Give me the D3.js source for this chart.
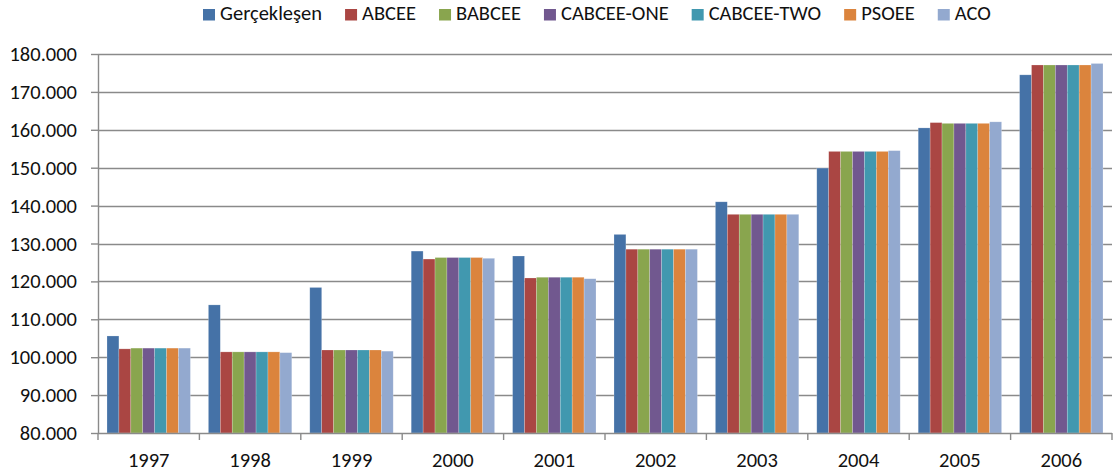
<!DOCTYPE html>
<html>
<head>
<meta charset="utf-8">
<script src="https://cdn.jsdelivr.net/npm/d3@7"></script>
<style>
  html, body { margin: 0; padding: 0; background: #fff; }
  svg { display: block; font-family: Carlito, "Open Sans", "Liberation Sans", sans-serif; }
</style>
</head>
<body>
<svg id="chart" width="1115" height="475"></svg>
<script>
// Years on the category axis
const years = ["1997", "1998", "1999", "2000", "2001", "2002", "2003", "2004", "2005", "2006"];

// Series names (legend order)
const seriesNames = ["Gerçekleşen", "ABCEE", "BABCEE", "CABCEE-ONE", "CABCEE-TWO", "PSOEE", "ACO"];

// Values per series, in thousands
const gerceklesen = [105.6, 113.8, 118.4, 128.0, 126.7, 132.4, 141.0, 149.9, 160.5, 174.5];
const abcee       = [102.2, 101.4, 101.9, 125.9, 120.9, 128.5, 137.7, 154.3, 161.9, 177.1];
const babcee      = [102.4, 101.4, 101.9, 126.3, 121.1, 128.5, 137.7, 154.3, 161.7, 177.1];
const cabceeOne   = [102.4, 101.4, 101.9, 126.3, 121.1, 128.5, 137.7, 154.3, 161.7, 177.1];
const cabceeTwo   = [102.4, 101.4, 101.9, 126.3, 121.1, 128.5, 137.7, 154.3, 161.7, 177.1];
const psoee       = [102.4, 101.4, 101.9, 126.3, 121.1, 128.5, 137.7, 154.3, 161.7, 177.1];
const aco         = [102.4, 101.2, 101.6, 126.1, 120.7, 128.5, 137.7, 154.5, 162.1, 177.5];

// Y-axis tick labels
const yTicks = [80, 90, 100, 110, 120, 130, 140, 150, 160, 170, 180];
const yTickLabels = ["80.000", "90.000", "100.000", "110.000", "120.000", "130.000",
                     "140.000", "150.000", "160.000", "170.000", "180.000"];

const seriesValues = [gerceklesen, abcee, babcee, cabceeOne, cabceeTwo, psoee, aco];
const colors = ["#4572A7", "#AA4643", "#89A54E", "#71588F", "#4198AF", "#DB843D", "#93A9CF"];

const FONT = "Carlito, 'Open Sans', 'Liberation Sans', sans-serif";
const FS = 20.5;

const svg = d3.select("#chart");
const margin = { left: 98, right: 3, top: 54, bottom: 42 };
const width = 1115, height = 475;
const plotW = width - margin.left - margin.right;
const plotH = height - margin.top - margin.bottom;

const x0 = d3.scaleBand().domain(years).range([0, plotW]).paddingInner(0).paddingOuter(0);
const groupPad = x0.bandwidth() * 0.0887;
const x1 = d3.scaleBand().domain(seriesNames)
  .range([groupPad, x0.bandwidth() - groupPad]).padding(0);
const y = d3.scaleLinear().domain([80, 180]).range([plotH, 0]);

const g = svg.append("g").attr("transform", `translate(${margin.left},${margin.top})`);

// Horizontal gridlines
g.append("g").selectAll("line").data(yTicks.slice(1)).join("line")
  .attr("x1", 0).attr("x2", plotW)
  .attr("y1", d => Math.round(y(d)) + 0.5).attr("y2", d => Math.round(y(d)) + 0.5)
  .attr("stroke", "#8a8a8a").attr("stroke-width", 1.4);

// Bars
const groups = g.append("g").selectAll("g").data(years).join("g")
  .attr("transform", d => `translate(${x0(d)},0)`);
groups.selectAll("rect")
  .data((yr, i) => seriesNames.map((s, k) => ({ s, k, v: seriesValues[k][i] })))
  .join("rect")
  .attr("x", d => x1(d.s))
  .attr("width", x1.bandwidth())
  .attr("y", d => y(d.v))
  .attr("height", d => plotH - y(d.v))
  .attr("fill", d => colors[d.k])
  .attr("stroke", "rgba(255,255,255,0.35)")
  .attr("stroke-width", 0.6);

// Y axis
const yAxis = d3.axisLeft(y).tickValues(yTicks)
  .tickFormat((d, i) => yTickLabels[i]).tickSize(7).tickPadding(14);
const ya = g.append("g").call(yAxis);
ya.select(".domain").attr("stroke", "#8a8a8a").attr("stroke-width", 1.4).attr("d", `M0.5,0V${plotH}`);
ya.selectAll(".tick line").attr("stroke", "#8a8a8a").attr("stroke-width", 1.4);
ya.selectAll(".tick text").attr("font-size", FS).attr("fill", "#111").attr("font-family", FONT);

// X axis with ticks at category boundaries
const xa = g.append("g").attr("transform", `translate(0,${plotH})`);
xa.append("line").attr("x1", 0).attr("x2", plotW).attr("y1", 0.5).attr("y2", 0.5)
  .attr("stroke", "#8a8a8a").attr("stroke-width", 1.4);
xa.selectAll("line.tk").data(d3.range(years.length + 1)).join("line").attr("class", "tk")
  .attr("x1", i => i * x0.bandwidth()).attr("x2", i => i * x0.bandwidth())
  .attr("y1", 0).attr("y2", 7).attr("stroke", "#8a8a8a").attr("stroke-width", 1.4);
xa.selectAll("text").data(years).join("text")
  .attr("x", d => x0(d) + x0.bandwidth() / 2).attr("y", 34)
  .attr("text-anchor", "middle").attr("font-size", FS).attr("fill", "#111")
  .text(d => d);

// Legend: square + label, laid out left to right from measured label widths
const legend = svg.append("g").attr("transform", "translate(0,20)");
let lx = 203;
seriesNames.forEach((name, i) => {
  const item = legend.append("g").attr("transform", `translate(${lx},0)`);
  item.append("rect").attr("x", 0).attr("y", -11).attr("width", 12).attr("height", 11.5)
    .attr("fill", colors[i]);
  const t = item.append("text").attr("x", 17).attr("y", 0).attr("font-size", FS)
    .attr("fill", "#111").text(name);
  lx += 17 + t.node().getComputedTextLength() + 23;
});
</script>
</body>
</html>
